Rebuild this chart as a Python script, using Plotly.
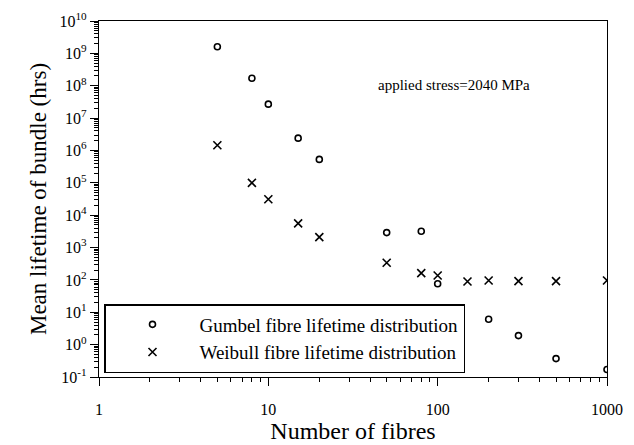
import plotly.graph_objects as go

gumbel_n = [5, 8, 10, 15, 20, 50, 80, 100, 200, 300, 500, 1000]
gumbel_life = [1.6e9, 1.7e8, 2.7e7, 2.4e6, 5.3e5, 2.9e3, 3.2e3, 76, 6.1, 1.9, 0.37, 0.17]

weibull_n = [5, 8, 10, 15, 20, 50, 80, 100, 150, 200, 300, 500, 1000]
weibull_life = [1.45e6, 1.0e5, 3.1e4, 5.6e3, 2.1e3, 340, 162, 137, 89, 96, 92, 92, 96]

y_tickvals = [10.0 ** k for k in range(-1, 11)]
y_ticktext = ["10<sup>%d</sup>" % k for k in range(-1, 11)]
x_tickvals = [1, 10, 100, 1000]
x_ticktext = ["1", "10", "100", "1000"]

FONT = "Liberation Serif"

fig = go.Figure()
fig.add_trace(go.Scatter(
    x=gumbel_n, y=gumbel_life, mode="markers",
    name="Gumbel fibre lifetime distribution",
    marker=dict(symbol="circle-open", size=6, color="black", line=dict(width=1.6, color="black")),
))
fig.add_trace(go.Scatter(
    x=weibull_n, y=weibull_life, mode="markers",
    name="Weibull fibre lifetime distribution",
    marker=dict(symbol="x-thin-open", size=8, color="black", line=dict(width=1.6, color="black")),
))

fig.update_layout(
    width=634, height=445,
    margin=dict(l=99, r=27, t=21, b=68),
    paper_bgcolor="white", plot_bgcolor="white",
    font=dict(family=FONT, size=14, color="black"),
    showlegend=True,
    legend=dict(
        x=(104 - 99) / 508, y=(377 - 304) / 356, xanchor="left", yanchor="top",
        bordercolor="black", borderwidth=1.5, bgcolor="white",
        font=dict(family=FONT, size=19, color="black"),
        itemwidth=84, tracegroupgap=0,
    ),
    annotations=[dict(
        x=(376 - 99) / 508, y=(377 - 85) / 356, xref="paper", yref="paper", showarrow=False,
        text="applied stress=2040 MPa", font=dict(family=FONT, size=15, color="black"),
        xanchor="left", yanchor="middle",
    )],
)

fig.update_xaxes(
    type="log", range=[0, 3], tickmode="array", tickvals=x_tickvals, ticktext=x_ticktext,
    showline=True, linecolor="black", linewidth=1.2, mirror=True,
    showgrid=False, zeroline=False, automargin=False,
    ticks="outside", ticklen=8, tickwidth=1, tickcolor="black",
    minor=dict(ticks="outside", ticklen=4, tickcolor="black", dtick="D1", showgrid=False),
    tickfont=dict(family=FONT, size=16), ticklabelstandoff=10,
    title=dict(text="Number of fibres", font=dict(family=FONT, size=24), standoff=0),
)
fig.update_yaxes(
    type="log", range=[-1, 10], tickmode="array", tickvals=y_tickvals, ticktext=y_ticktext,
    showline=True, linecolor="black", linewidth=1.2, mirror=True,
    showgrid=False, zeroline=False, automargin=False,
    ticks="outside", ticklen=8, tickwidth=1, tickcolor="black",
    minor=dict(ticks="outside", ticklen=4, tickcolor="black", dtick="D1", showgrid=False),
    tickfont=dict(family=FONT, size=16),
    title=dict(text="Mean lifetime of bundle (hrs)", font=dict(family=FONT, size=23), standoff=6),
)

fig.write_html("out.html")
